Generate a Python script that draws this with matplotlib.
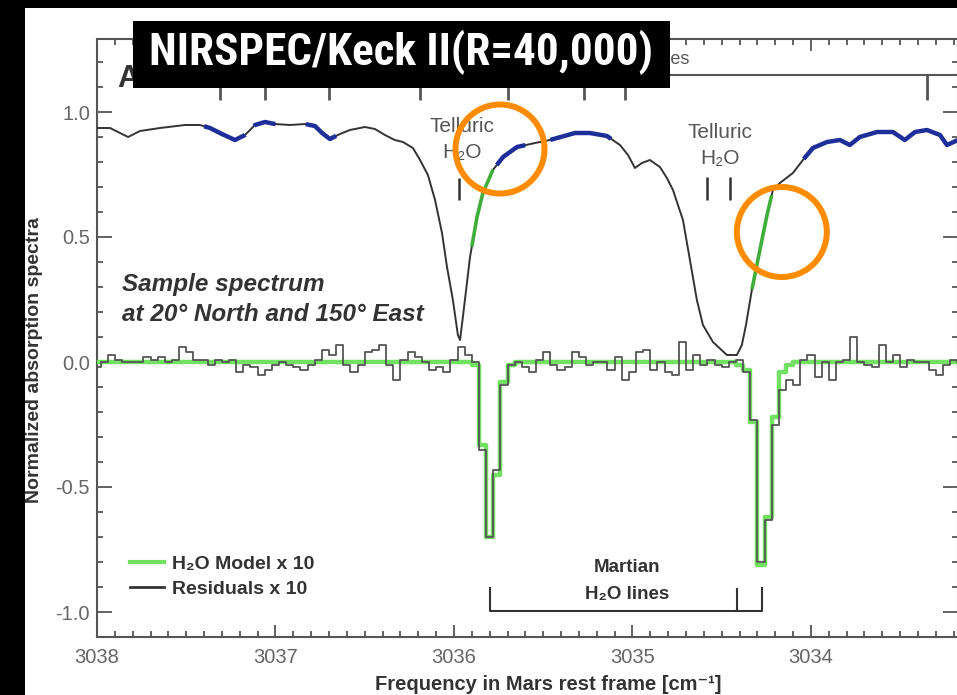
import numpy as np
import matplotlib.pyplot as plt
from matplotlib.patches import Rectangle, Ellipse
from matplotlib.ticker import MultipleLocator
from matplotlib.lines import Line2D

plt.rcParams["font.family"] = ["Liberation Sans", "DejaVu Sans"]
plt.rcParams["axes.unicode_minus"] = False

# observed spectrum, normalized (telluric + solar + Martian absorption)
spec_freq = [3038.000, 3037.927, 3037.871, 3037.826, 3037.759, 3037.647, 3037.507, 3037.423,
             3037.367, 3037.300, 3037.227, 3037.171, 3037.115, 3037.059, 3037.003, 3036.919,
             3036.835, 3036.779, 3036.739, 3036.695, 3036.639, 3036.583, 3036.499, 3036.443,
             3036.387, 3036.331, 3036.286, 3036.230, 3036.190, 3036.146, 3036.106, 3036.067,
             3036.039, 3036.006, 3035.978, 3035.966, 3035.950, 3035.910, 3035.871, 3035.838,
             3035.782, 3035.725, 3035.647, 3035.546, 3035.462, 3035.322, 3035.238, 3035.143,
             3035.070, 3035.025, 3034.986, 3034.947, 3034.902, 3034.846, 3034.807, 3034.773,
             3034.717, 3034.678, 3034.639, 3034.605, 3034.549, 3034.471, 3034.415, 3034.387,
             3034.364, 3034.331, 3034.286, 3034.246, 3034.213, 3034.174, 3034.101, 3034.045,
             3033.989, 3033.910, 3033.838, 3033.782, 3033.726, 3033.630, 3033.541, 3033.474,
             3033.417, 3033.350, 3033.277, 3033.238, 3033.176]
spec_vals = [0.936, 0.936, 0.916, 0.900, 0.924, 0.936, 0.948, 0.948,
             0.936, 0.912, 0.888, 0.908, 0.948, 0.960, 0.952, 0.948,
             0.952, 0.944, 0.916, 0.892, 0.912, 0.928, 0.940, 0.932,
             0.908, 0.888, 0.880, 0.856, 0.808, 0.748, 0.648, 0.516,
             0.380, 0.248, 0.108, 0.088, 0.180, 0.420, 0.580, 0.676,
             0.768, 0.820, 0.860, 0.876, 0.888, 0.916, 0.916, 0.904,
             0.868, 0.828, 0.776, 0.796, 0.808, 0.780, 0.736, 0.688,
             0.568, 0.408, 0.248, 0.148, 0.080, 0.028, 0.028, 0.068,
             0.148, 0.288, 0.448, 0.588, 0.688, 0.716, 0.756, 0.808,
             0.856, 0.880, 0.888, 0.868, 0.900, 0.920, 0.920, 0.888,
             0.920, 0.928, 0.908, 0.868, 0.888]

# parts of the spectrum used for the solar fit (blue) and Martian line wings (green)
blue_ranges = [(3037.40, 3037.17), (3037.12, 3037.00), (3036.83, 3036.66),
               (3035.76, 3035.60), (3035.46, 3035.12), (3034.04, 3033.176)]
green_ranges = [(3035.90, 3035.78), (3034.33, 3034.22)]

# residuals and H2O model, both x10, sampled every 0.04 cm-1
res_start, res_step = 3038.0, 0.04
residuals = [-0.02, 0.00, 0.03, 0.01, 0.00, 0.00, 0.00, 0.02, 0.01, 0.02,
             0.00, 0.01, 0.06, 0.04, 0.01, 0.01, -0.01, 0.01, 0.00, 0.01,
             -0.04, -0.01, -0.02, -0.05, -0.03, -0.01, 0.00, -0.01, -0.02, -0.03,
             -0.01, 0.01, 0.05, 0.03, 0.07, -0.01, -0.04, -0.01, 0.04, 0.05,
             0.07, -0.01, -0.07, 0.01, 0.04, 0.02, 0.00, -0.03, -0.02, -0.04,
             0.01, 0.06, 0.03, 0.00, -0.35, -0.70, -0.43, -0.09, -0.01, 0.00,
             -0.02, -0.04, 0.01, 0.04, -0.01, -0.03, -0.02, 0.04, 0.02, -0.01,
             0.00, 0.00, -0.03, 0.02, -0.07, -0.04, 0.04, 0.05, -0.03, 0.00,
             -0.04, -0.05, 0.08, -0.03, 0.03, -0.01, 0.01, -0.01, -0.02, 0.00,
             0.01, -0.04, -0.23, -0.80, -0.63, -0.25, -0.11, -0.07, -0.09, 0.01,
             0.03, -0.06, 0.00, -0.07, 0.00, 0.01, 0.10, 0.00, -0.01, -0.02,
             0.07, 0.00, 0.03, -0.02, 0.01, 0.00, 0.00, -0.03, -0.05, -0.01,
             0.01, 0.00]
h2o_model = [0.0] * 53 + [-0.01, -0.33, -0.70, -0.45, -0.08, -0.01] + [0.0] * 31 + \
            [-0.01, -0.03, -0.24, -0.81, -0.62, -0.22, -0.04, -0.01] + [0.0] * 24

# solar line positions marked above the spectrum
solar_lines = [3037.31, 3037.06, 3036.70, 3036.19, 3035.70, 3035.27, 3035.04, 3033.35]
telluric_1 = [3035.972]
telluric_2 = [3034.583, 3034.454]
martian_lines = [3035.798, 3034.415, 3034.275]

grey = "#555555"
dark = "#333333"

fig = plt.figure(figsize=(9.57, 6.95), dpi=100, facecolor="black")
fig.add_artist(Rectangle((25 / 957, 0), 1, 1 - 8 / 695, transform=fig.transFigure,
                         facecolor="white", edgecolor="none", zorder=-1))
ax = fig.add_axes([97 / 957, 58 / 695, 861 / 957, 598 / 695])
ax.set_xlim(3038, 3033.176)
ax.set_ylim(-1.1, 1.292)

# spectrum
sf = np.array(spec_freq)
sv = np.array(spec_vals)
ax.plot(sf, sv, color=dark, lw=1.4, zorder=3)


def segment(lo, hi):
    inner = (sf < lo) & (sf > hi)
    xs = np.concatenate([[lo], sf[inner], [hi]])
    ys = np.interp(xs, sf[::-1], sv[::-1])
    return xs, ys


for lo, hi in blue_ranges:
    xs, ys = segment(lo, hi)
    ax.plot(xs, ys, color="#1f2f9a", lw=3.2, solid_capstyle="butt", zorder=4)
for lo, hi in green_ranges:
    xs, ys = segment(lo, hi)
    ax.plot(xs, ys, color="#3fae3a", lw=2.6, solid_capstyle="butt", zorder=4)

# model and residuals
res_freq = res_start - res_step * np.arange(len(residuals))
ax.plot(res_freq, h2o_model, drawstyle="steps-mid", color="#72e060", lw=3.2, zorder=3)
ax.plot(res_freq, residuals, drawstyle="steps-mid", color=grey, lw=1.3, zorder=4)

# solar line markers
ax.plot([3037.75, 3033.176], [1.148, 1.148], color=grey, lw=1.5, clip_on=False)
ax.vlines(solar_lines, 1.048, 1.148, color=grey, lw=2)
ax.text(3034.68, 1.21, "Solar lines", ha="right", va="center", fontsize=13, color=grey)
ax.text(3037.885, 1.10, "A", ha="left", va="baseline", fontsize=22, weight="bold", color=dark)

# telluric labels
ax.vlines(telluric_1, 0.648, 0.736, color=dark, lw=1.8)
ax.vlines(telluric_2, 0.648, 0.740, color=dark, lw=1.8)
ax.text(3035.955, 0.94, "Telluric", ha="center", va="center", fontsize=15, color=grey)
ax.text(3035.955, 0.84, "H₂O", ha="center", va="center", fontsize=15, color=grey)
ax.text(3034.510, 0.92, "Telluric", ha="center", va="center", fontsize=15, color=grey)
ax.text(3034.510, 0.816, "H₂O", ha="center", va="center", fontsize=15, color=grey)

# Martian lines bracket
ax.plot([martian_lines[0], martian_lines[0], martian_lines[2], martian_lines[2]],
        [-0.904, -0.996, -0.996, -0.904], color=dark, lw=1.5)
ax.vlines(martian_lines[1], -0.996, -0.904, color=dark, lw=1.5)
ax.text(3035.031, -0.82, "Martian", ha="center", va="center", fontsize=13.5,
        weight="bold", color=dark)
ax.text(3035.031, -0.928, "H₂O lines", ha="center", va="center", fontsize=13.5,
        weight="bold", color=dark)

ax.text(3037.86, 0.312, "Sample spectrum", ha="left", va="center", fontsize=17.5,
        weight="bold", style="italic", color=dark)
ax.text(3037.86, 0.19, "at 20° North and 150° East", ha="left", va="center", fontsize=17.5,
        weight="bold", style="italic", color=dark)

handles = [Line2D([], [], color="#72e060", lw=3), Line2D([], [], color=dark, lw=2)]
ax.legend(handles, ["H₂O Model x 10", "Residuals x 10"], loc="upper left",
          bbox_to_anchor=(0.038, 0.137), frameon=False, handlelength=1.75,
          handletextpad=0.4, labelspacing=0.4, borderpad=0, borderaxespad=0,
          prop={"weight": "bold", "size": 14}, labelcolor=dark)

# highlight circles
ax.add_patch(Ellipse((3035.742, 0.852), 0.4986, 0.356, fill=False, ec="#ff8c00",
                     lw=4.3, zorder=10, clip_on=False))
ax.add_patch(Ellipse((3034.163, 0.52), 0.504, 0.36, fill=False, ec="#ff8c00",
                     lw=4.3, zorder=10, clip_on=False))

# axes styling
for s in ax.spines.values():
    s.set_color(grey)
    s.set_linewidth(1.5)
ax.xaxis.set_major_locator(MultipleLocator(1))
ax.xaxis.set_minor_locator(MultipleLocator(0.1))
ax.yaxis.set_major_locator(MultipleLocator(0.5))
ax.yaxis.set_minor_locator(MultipleLocator(0.1))
ax.tick_params(which="both", direction="in", top=True, right=True, color=grey,
               labelcolor="#666666", width=1.3, labelsize=14.5)
ax.tick_params(axis="x", which="major", length=8.5, pad=8)
ax.tick_params(axis="y", which="major", length=11, pad=5)
ax.tick_params(which="minor", length=4)
ax.set_xticks([3038, 3037, 3036, 3035, 3034])
ax.set_xticklabels(["3038", "3037", "3036", "3035", "3034"])
ax.set_yticks([1.0, 0.5, 0.0, -0.5, -1.0])
ax.set_yticklabels(["1.0", "0.5", "0.0", "-0.5", "-1.0"])

fig.text(35 / 957, 1 - 360 / 695, "Normalized absorption spectra", rotation=90,
         ha="center", va="center", fontsize=14, weight="bold", color=dark)
fig.text(548 / 957, 1 - 684 / 695, "Frequency in Mars rest frame [cm⁻¹]",
         ha="center", va="center", fontsize=14.5, weight="bold", color=dark)

# title banner, font size fitted to the banner width
fig.add_artist(Rectangle((133 / 957, 1 - 88 / 695), 537 / 957, 67 / 695,
                         transform=fig.transFigure, facecolor="black",
                         edgecolor="none", zorder=5))
title = fig.text(401 / 957, 1 - 52 / 695, "NIRSPEC/Keck II(R=40,000)", color="white",
                 fontsize=32, weight="bold", ha="center", va="center", zorder=6,
                 family=["Roboto Condensed", "Liberation Sans Narrow", "Liberation Sans"])
fig.canvas.draw()
width = title.get_window_extent().width
title.set_fontsize(min(34, 32 * 506 / width))

fig.savefig("out.png", dpi=100, facecolor="black")
